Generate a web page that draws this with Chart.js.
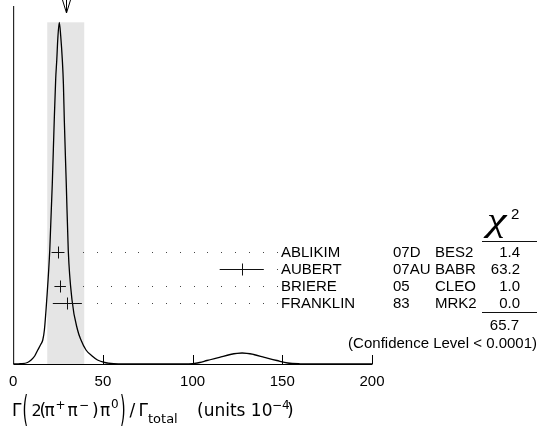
<!DOCTYPE html>
<html><head><meta charset="utf-8">
<script src="https://cdn.jsdelivr.net/npm/chart.js@4.4.1/dist/chart.umd.min.js"></script>
<style>html,body{margin:0;padding:0;background:#fff}#wrap{width:544px;height:430px;position:relative}</style>
</head><body><div id="wrap"><canvas id="c" width="544" height="430"></canvas></div>
<script>
// ---- data ----
const names = ['ABLIKIM', 'AUBERT', 'BRIERE', 'FRANKLIN'];
const years = ['07D', '07AU', '05', '83'];
const experiments = ['BES2', 'BABR', 'CLEO', 'MRK2'];
const values = [25.0, 127.4, 26.2, 30.2];
const errors = [3.6, 12.3, 3.2, 8.1];
const chi2 = ['1.4', '63.2', '1.0', '0.0'];
const chi2Total = '65.7';
const confidenceText = '(Confidence Level < 0.0001)';
const average = 29.3;
const scaledError = 10.3;
const xTicks = [0, 50, 100, 150, 200];
// ideogram curve (x in units 10^-4, arbitrary height)
const curveX = [0, 4, 8, 10, 12, 13.7, 15.5, 16.5, 17.4, 18.7, 20.4, 21.8, 22.9, 23.7, 24.3, 24.9, 25.7,
  26.5, 27.4, 28.0, 28.5, 29.6, 30.7, 32.8, 35.9, 37.8, 40.6, 44, 47, 51, 56, 62,
  95, 100, 104, 108, 115, 121, 127.6, 134, 140, 147, 153, 160, 170, 200];
const curveY = [0, 0.3, 1.5, 4, 8, 14, 20, 24, 34, 64, 114, 180, 244, 285, 304, 326, 341.7,
  328, 304, 280, 244, 180, 114, 64, 34, 24, 14, 8, 4, 1.5, 0.3, 0,
  0, 0.3, 1.5, 3.5, 6.7, 9.5, 11, 9.5, 6.7, 3.5, 1, 0.2, 0, 0];

// ---- layout constants ----
const FONT = '"Liberation Sans", Arial, Helvetica, sans-serif';

const curveData = curveX.map((x, i) => ({x: x, y: curveY[i]}));
const pointData = values.map((v, i) => ({x: v, y: i}));

const ideogramPlugin = {
  id: 'ideogram',
  beforeDatasetsDraw(chart) {
    const {ctx, chartArea: a, scales: {x, y}} = chart;
    ctx.save();
    ctx.fillStyle = '#e5e5e5';
    const x0 = x.getPixelForValue(average - scaledError);
    const x1 = x.getPixelForValue(average + scaledError);
    const yt = y.getPixelForValue(Math.max(...curveY));
    ctx.fillRect(x0, yt, x1 - x0, a.bottom - yt);
    ctx.restore();
  },
  afterDatasetsDraw(chart) {
    const {ctx, chartArea: a, scales: {x, yRow}} = chart;
    ctx.save();
    ctx.strokeStyle = '#000';
    ctx.lineWidth = 1;
    // axes
    ctx.beginPath();
    ctx.moveTo(a.left + 0.5, a.top);
    ctx.lineTo(a.left + 0.5, a.bottom + 0.5);
    ctx.lineTo(a.right + 0.5, a.bottom + 0.5);
    xTicks.forEach(t => {
      if (t === 0) return;
      const px = Math.round(x.getPixelForValue(t)) + 0.5;
      ctx.moveTo(px, a.bottom);
      ctx.lineTo(px, a.bottom - 9);
    });
    ctx.stroke();
    // arrow at average
    const ax = Math.round(x.getPixelForValue(average)) + 0.5;
    ctx.beginPath();
    ctx.moveTo(ax, 0); ctx.lineTo(ax, 13);
    ctx.moveTo(ax - 4, 0); ctx.lineTo(ax, 13); ctx.lineTo(ax + 4, 0);
    ctx.stroke();
    // error bars (crosses) + dotted leaders + table
    values.forEach((v, i) => {
      const py = Math.round(yRow.getPixelForValue(i)) + 0.5;
      const lo = x.getPixelForValue(v - errors[i]);
      const hi = x.getPixelForValue(v + errors[i]);
      const cx = Math.round(x.getPixelForValue(v)) + 0.5;
      ctx.strokeStyle = '#111';
      ctx.beginPath();
      ctx.moveTo(lo, py); ctx.lineTo(hi, py);
      ctx.moveTo(cx, py - 6); ctx.lineTo(cx, py + 6);
      ctx.stroke();
      ctx.fillStyle = '#444';
      for (let dx = 276.5; dx > hi + 8; dx -= 13.8) {
        ctx.fillRect(Math.round(dx), py - 0.5, 1, 1);
      }
      ctx.fillStyle = '#000';
      ctx.font = '15px ' + FONT;
      ctx.textBaseline = 'middle';
      ctx.textAlign = 'left';
      ctx.fillText(names[i], 281, py + 0.5);
      ctx.fillText(years[i], 393, py + 0.5);
      ctx.fillText(experiments[i], 435, py + 0.5);
      ctx.textAlign = 'right';
      ctx.fillText(chi2[i], 520, py + 0.5);
    });
    // chi2 header
    ctx.textAlign = 'left';
    ctx.textBaseline = 'alphabetic';
    ctx.save();
    ctx.translate(487, 231);
    ctx.scale(1.3, 1);
    ctx.font = 'italic 34px "Liberation Serif", "DejaVu Serif", serif';
    ctx.fillText('\u03C7', 0, 0);
    ctx.restore();
    ctx.font = '15px ' + FONT;
    ctx.fillText('2', 511, 219);
    ctx.beginPath();
    ctx.moveTo(482, 241.5); ctx.lineTo(537, 241.5);
    ctx.moveTo(482, 312.5); ctx.lineTo(537, 312.5);
    ctx.stroke();
    ctx.textAlign = 'right';
    ctx.textBaseline = 'middle';
    ctx.fillText(chi2Total, 519, 325.5);
    ctx.fillText(confidenceText, 537, 343.5);
    // x-axis title
    ctx.textAlign = 'left';
    ctx.textBaseline = 'alphabetic';
    const M = '17px "DejaVu Sans", sans-serif';
    const S = '12px "DejaVu Sans", sans-serif';
    const pieces = [
      ['\u0393', 12, 416, M], ['2', 31.5, 416, '16px "DejaVu Sans", sans-serif'], ['(', 39.5, 416, M],
      ['\u03C0', 44.5, 416, M],
      ['+', 55.5, 409, S], ['\u03C0', 67.5, 416, M], ['\u2212', 79, 408.5, S], [')', 92, 416, M],
      ['\u03C0', 100, 416, M], ['0', 111, 408, S], ['/', 129.5, 416, M], ['\u0393', 138.5, 416, M],
      ['total', 148, 423, '13px "DejaVu Sans", sans-serif'], ['(units 10', 197, 416, M],
      ['\u22124', 272, 408.5, S], [')', 287, 416, M]
    ];
    pieces.forEach(p => {
      ctx.font = p[3];
      ctx.fillText(p[0], p[1], p[2]);
    });
    // tall parentheses
    ctx.font = '17px "DejaVu Sans", sans-serif';
    [['(', 22.5], [')', 120]].forEach(p => {
      ctx.save();
      ctx.translate(p[1], 420.5);
      ctx.scale(0.85, 2.1);
      ctx.fillText(p[0], 0, 0);
      ctx.restore();
    });
    ctx.restore();
  }
};

new Chart(document.getElementById('c'), {
  type: 'line',
  data: {
    datasets: [
      {data: curveData, borderColor: '#000', borderWidth: 1.3, pointRadius: 0,
       cubicInterpolationMode: 'monotone', fill: false, yAxisID: 'y'},
      {type: 'scatter', data: pointData, yAxisID: 'yRow', pointRadius: 0, showLine: false}
    ]
  },
  options: {
    responsive: false, animation: false, devicePixelRatio: 1,
    layout: {padding: {left: 12, right: 172, top: 6, bottom: 0}},
    plugins: {legend: {display: false}, tooltip: {enabled: false}},
    scales: {
      x: {type: 'linear', axis: 'x', min: 0, max: 200, position: 'bottom',
          afterBuildTicks(s) { s.ticks = xTicks.map(v => ({value: v})); },
          afterFit(s) { s.height = 66; },
          grid: {display: false, drawTicks: false}, border: {display: false},
          ticks: {color: '#000', font: {size: 15, family: FONT}, padding: 9, maxRotation: 0}},
      y: {type: 'linear', axis: 'y', position: 'left', min: 0, max: 358, display: false, bounds: 'data'},
      yRow: {type: 'linear', axis: 'y', position: 'left', min: -14.28, max: 6.53, reverse: true,
             display: false, bounds: 'data'}
    }
  },
  plugins: [ideogramPlugin]
});
</script></body></html>
